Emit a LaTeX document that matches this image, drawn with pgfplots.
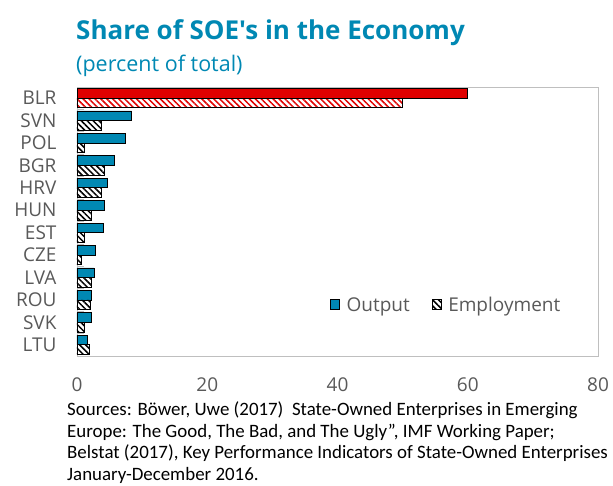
\documentclass[border=0pt]{standalone}
\usepackage{fontspec}
\setmainfont{Open Sans}
\newfontfamily\titlefont{Open Sans}[Ligatures=TeXOff]
\newfontfamily\calibri{Carlito}
\usepackage{pgfplots}
\usepackage{pgfplotstable}
\pgfplotsset{compat=1.18}
\usetikzlibrary{patterns.meta}

\definecolor{soeteal}{HTML}{0088B3}
\definecolor{soered}{HTML}{E00000}
\definecolor{labgray}{HTML}{595959}
\definecolor{framegray}{HTML}{BFBFBF}

% countries below BLR (y = 1..11), BLR drawn separately in red
\pgfplotstableread{
y output employment
1 8.4 3.8
2 7.4 1.1
3 5.7 4.2
4 4.6 3.8
5 4.2 2.2
6 4.0 1.1
7 2.8 0.6
8 2.6 2.2
9 2.2 2.1
10 2.2 1.1
11 1.6 1.9
}\soedata

\begin{document}
\begin{tikzpicture}
\path[use as bounding box] (0,0) rectangle (613pt,485pt);
\begin{axis}[
    at={(77pt,129pt)}, anchor=south west,
    scale only axis, width=521pt, height=269pt,
    xmin=0, xmax=80, ymin=-0.5, ymax=11.5,
    y dir=reverse,
    xbar, bar width=0.43,
    axis line style={framegray, line width=0.8pt},
    xtick={0,20,40,60,80},
    xtick pos=right, xticklabel pos=left,
    ytick={0,...,11},
    yticklabels={BLR,SVN,POL,BGR,HRV,HUN,EST,CZE,LVA,ROU,SVK,LTU},
    ytick pos=left,
    minor ytick={0.5,1.5,...,10.5},
    every major y tick/.style={draw=none},
    tick align=inside,
    major tick length=5pt, minor tick length=7pt,
    tick style={framegray, line width=0.8pt},
    /pgf/number format/assume math mode=true,
    xticklabel style={font=\fontsize{19}{22}\selectfont, text=labgray, yshift=-18pt},
    yticklabel style={font=\fontsize{19}{22}\selectfont, text=labgray, xshift=-17pt},
    legend style={at={(0.48,0.19)}, anchor=west, draw=none, fill=none,
        font=\fontsize{19}{22}\selectfont, text=labgray,
        /tikz/every even column/.append style={column sep=20pt}},
    legend columns=2,
    legend image code/.code={
        \draw[#1, draw=black, line width=0.8pt] (0pt,-4.5pt) rectangle (9pt,5pt);
        \path[draw=none, fill=none] (0pt,0pt) -- (14pt,0pt);},
]
\addplot[fill=soeteal, draw=black, line width=0.8pt, bar shift=-0.215]
    table[x=output, y=y] {\soedata};
\addlegendentry{Output}
\addplot[fill=white, draw=black, line width=0.8pt, bar shift=0.215,
    pattern={Lines[angle=-45, distance=4.2pt, line width=1.5pt]}, pattern color=black]
    table[x=employment, y=y] {\soedata};
\addlegendentry{Employment}
% BLR
\addplot[fill=soered, draw=black, line width=0.8pt, bar shift=-0.215, forget plot]
    coordinates {(60,0)};
\addplot[draw=black, line width=0.8pt, bar shift=0.215, forget plot,
    pattern={Lines[angle=-45, distance=4.2pt, line width=1.5pt]}, pattern color=soered]
    coordinates {(50,0)};
\end{axis}
\node[anchor=base west, inner sep=0, text=soeteal, font=\titlefont\fontsize{26}{30}\selectfont\bfseries]
    at (76pt,445pt) {Share of SOE's in the Economy};
\node[anchor=base west, inner sep=0, text=soeteal, font=\fontsize{21.5}{26}\selectfont]
    at (76pt,413pt) {(percent of total)};
\begin{scope}[every node/.style={anchor=base west, inner sep=0, font=\calibri\fontsize{18.9}{21}\selectfont}]
\node at (67pt,69.5pt) {Sources: Böwer, Uwe (2017)\ \ State-Owned Enterprises in Emerging};
\node at (67pt,48pt) {Europe: The Good, The Bad, and The Ugly”, IMF Working Paper;};
\node at (67pt,26.5pt) {Belstat (2017), Key Performance Indicators of State-Owned Enterprises};
\node at (67pt,5pt) {January-December 2016.};
\end{scope}
\end{tikzpicture}
\end{document}
